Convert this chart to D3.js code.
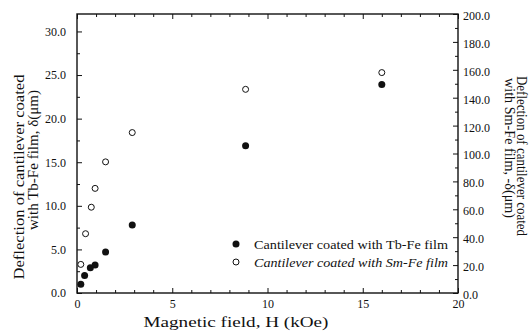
<!DOCTYPE html>
<html><head><meta charset="utf-8">
<script src="https://cdn.jsdelivr.net/npm/d3@7"></script>
<style>body{margin:0;background:#fff}svg{display:block}svg text{font-family:"Liberation Serif","Times New Roman",Times,serif !important;fill:#111}</style>
</head><body><svg id="c" width="529" height="334"></svg>
<script>
const fieldTb = [0.2, 0.4, 0.7, 0.95, 1.5, 2.9, 8.85, 16.0];
const deflTb  = [1.0, 2.0, 2.9, 3.2, 4.7, 7.8, 16.9, 23.9];
const fieldSm = [0.2, 0.45, 0.75, 0.95, 1.5, 2.9, 8.85, 16.0];
const deflSm  = [20.5, 42.5, 61.5, 75, 94, 115, 146, 158];
const xTicks = [0, 5, 10, 15, 20];
const yLeftTicks = [0, 5, 10, 15, 20, 25, 30];
const yRightTicks = [0, 20, 40, 60, 80, 100, 120, 140, 160, 180, 200];
const legendLabels = ["Cantilever coated with Tb-Fe film", "Cantilever coated with Sm-Fe film"];

const L = 77, R = 458, T = 14, B = 293;
const svg = d3.select("#c");
const x = d3.scaleLinear().domain([0, 20]).range([L, R]);
const yL = d3.scaleLinear().domain([0, 32]).range([B, T]);
const yR = d3.scaleLinear().domain([0, 200]).range([B, T]);

const minorX = d3.range(0, 21, 1).filter(v => v % 5 !== 0);
const minorYL = d3.range(2.5, 32, 5);
const minorYR = d3.range(10, 200, 20);

function styleAxis(g){ g.select(".domain").remove(); g.selectAll("line").attr("stroke","#111").attr("stroke-width",1); }
function styleLabels(g){ g.select(".domain").remove(); g.attr("font-family",null); g.selectAll("text").style("font-size","12px").attr("fill","#111"); }

// bottom axis
svg.append("g").attr("transform",`translate(0,${B})`)
  .call(d3.axisTop(x).tickValues(xTicks).tickSize(5).tickFormat("")).call(styleAxis);
svg.append("g").attr("transform",`translate(0,${B})`)
  .call(d3.axisTop(x).tickValues(minorX).tickSize(3).tickFormat("")).call(styleAxis);
svg.append("g").attr("transform",`translate(0,${B})`)
  .call(d3.axisBottom(x).tickValues(xTicks).tickSize(0).tickPadding(6).tickFormat(d3.format("d"))).call(styleLabels);
// top axis
svg.append("g").attr("transform",`translate(0,${T})`)
  .call(d3.axisBottom(x).tickValues(xTicks).tickSize(5).tickFormat("")).call(styleAxis);
svg.append("g").attr("transform",`translate(0,${T})`)
  .call(d3.axisBottom(x).tickValues(minorX).tickSize(3).tickFormat("")).call(styleAxis);
// left axis
svg.append("g").attr("transform",`translate(${L},0)`)
  .call(d3.axisRight(yL).tickValues(yLeftTicks).tickSize(5).tickFormat("")).call(styleAxis);
svg.append("g").attr("transform",`translate(${L},0)`)
  .call(d3.axisRight(yL).tickValues(minorYL).tickSize(3).tickFormat("")).call(styleAxis);
svg.append("g").attr("transform",`translate(${L},0)`)
  .call(d3.axisLeft(yL).tickValues(yLeftTicks).tickSize(0).tickPadding(11).tickFormat(d3.format(".1f"))).call(styleLabels);
// right axis
svg.append("g").attr("transform",`translate(${R},0)`)
  .call(d3.axisLeft(yR).tickValues(yRightTicks).tickSize(5).tickFormat("")).call(styleAxis);
svg.append("g").attr("transform",`translate(${R},0)`)
  .call(d3.axisLeft(yR).tickValues(minorYR).tickSize(3).tickFormat("")).call(styleAxis);
svg.append("g").attr("transform",`translate(${R},0)`)
  .call(d3.axisRight(yR).tickValues(yRightTicks).tickSize(0).tickPadding(5).tickFormat(d3.format(".1f")))
  .call(styleLabels).call(g=>g.selectAll("text").attr("dy","0.45em"));

// frame
svg.append("rect").attr("x",L).attr("y",T).attr("width",R-L).attr("height",B-T)
  .attr("fill","none").attr("stroke","#111").attr("stroke-width",1.4);

// data
const tb = fieldTb.map((h,i)=>({h, v: deflTb[i]}));
const sm = fieldSm.map((h,i)=>({h, v: deflSm[i]}));
svg.append("g").selectAll("circle").data(sm).join("circle")
  .attr("cx",d=>x(d.h)).attr("cy",d=>yR(d.v)).attr("r",3)
  .attr("fill","#fff").attr("stroke","#111").attr("stroke-width",1);
svg.append("g").selectAll("circle").data(tb).join("circle")
  .attr("cx",d=>x(d.h)).attr("cy",d=>yL(d.v)).attr("r",3.5).attr("fill","#111");

// legend
const lg = svg.append("g");
const ly = [244, 262];
lg.append("circle").attr("cx",236).attr("cy",ly[0]).attr("r",3.5).attr("fill","#111");
lg.append("circle").attr("cx",236).attr("cy",ly[1]).attr("r",3).attr("fill","#fff").attr("stroke","#111");
lg.selectAll("text").data(legendLabels).join("text")
  .attr("x",254).attr("y",(d,i)=>ly[i]+4.5).style("font-size","13.5px")
  .style("font-style",(d,i)=>i===1?"italic":"normal")
  .attr("textLength",194).attr("lengthAdjust","spacingAndGlyphs").text(d=>d);

// axis titles
svg.append("text").attr("x",236).attr("y",327).attr("text-anchor","middle")
  .style("font-size","14px").attr("textLength",185).attr("lengthAdjust","spacingAndGlyphs")
  .text("Magnetic field, H (kOe)");
svg.append("text").attr("transform","translate(24,177) rotate(-90)").attr("text-anchor","middle")
  .style("font-size","14.5px").attr("textLength",205).attr("lengthAdjust","spacingAndGlyphs")
  .text("Deflection of cantilever coated");
svg.append("text").attr("transform","translate(38,160) rotate(-90)").attr("text-anchor","middle")
  .style("font-size","14.5px").attr("textLength",140).attr("lengthAdjust","spacingAndGlyphs")
  .text("with Tb-Fe film, δ(μm)");
svg.append("text").attr("transform","translate(517,76) rotate(90)").attr("text-anchor","start")
  .style("font-size","14px").attr("textLength",160).attr("lengthAdjust","spacingAndGlyphs")
  .text("Deflection of cantilever coated");
svg.append("text").attr("transform","translate(505,78) rotate(90)").attr("text-anchor","start")
  .style("font-size","14px").attr("textLength",140).attr("lengthAdjust","spacingAndGlyphs")
  .text("with Sm-Fe film, -δ(μm)");
</script></body></html>
